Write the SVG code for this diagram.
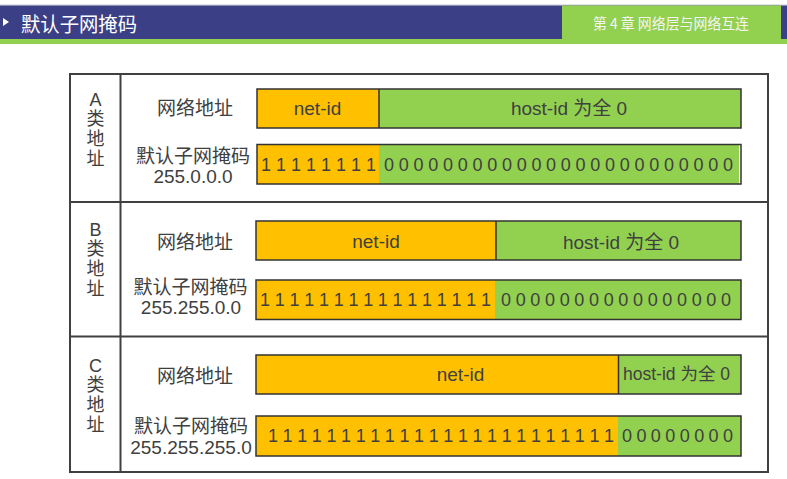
<svg xmlns="http://www.w3.org/2000/svg" width="787" height="479" viewBox="0 0 787 479">
<style>
  .t{font-family:"Liberation Sans","Noto Sans CJK SC",sans-serif;fill:#404040;}
  .lbl{font-size:19px;text-anchor:middle;}
  .cls{font-size:18px;text-anchor:middle;}
  .bits{font-size:18px;}
  .or{fill:#FFC000;}
  .gr{fill:#92D050;}
  .box{fill:none;stroke:#333;stroke-width:1.5;}
  .line{stroke:#404040;stroke-width:2;fill:none;}
</style>
<rect width="787" height="479" fill="#fff"/>
<g id="header">
  <line x1="0" y1="5" x2="787" y2="5" stroke="#c8c8d0" stroke-width="1"/>
  <rect x="0" y="5.5" width="787" height="34" fill="#3B3F86"/>
  <rect x="0" y="39" width="787" height="5" fill="#92D050"/>
  <rect x="562" y="5.5" width="219" height="38.5" fill="#92D050"/>
  <polygon points="3,18 9,22 3,26" fill="#ffffff"/>
  <text x="21" y="32" font-family="Noto Sans CJK SC, sans-serif" font-size="20" fill="#ffffff" textLength="116" lengthAdjust="spacingAndGlyphs">默认子网掩码</text>
  <text x="593" y="29" font-family="Noto Sans CJK SC, sans-serif" font-size="15" fill="#f4f4f4" textLength="156" lengthAdjust="spacingAndGlyphs">第 4 章  网络层与网络互连</text>
</g>
<g id="table">
  <rect x="70" y="74" width="698" height="398" class="line"/>
  <line x1="120.5" y1="74" x2="120.5" y2="472" class="line"/>
  <line x1="70" y1="202" x2="768" y2="202" class="line"/>
  <line x1="70" y1="336.5" x2="768" y2="336.5" class="line"/>
</g>
<g id="rowA">
  <text class="t cls" x="95.5" y="106">A</text>
  <text class="t cls" x="95.5" y="125">类</text>
  <text class="t cls" x="95.5" y="145">地</text>
  <text class="t cls" x="95.5" y="165">址</text>
  <text class="t lbl" x="195" y="115">网络地址</text>
  <text class="t lbl" x="193" y="163">默认子网掩码</text>
  <text class="t lbl" x="193" y="183">255.0.0.0</text>
  <rect x="257" y="89" width="122" height="39" class="or"/>
  <rect x="379" y="89" width="362" height="39" class="gr"/>
  <rect x="257" y="89" width="484" height="39" class="box"/>
  <line x1="379" y1="89" x2="379" y2="128" stroke="#333" stroke-width="1.5"/>
  <text class="t lbl" x="317.5" y="115">net-id</text>
  <text class="t lbl" x="569" y="115">host-id 为全 0</text>
  <rect x="257" y="144.5" width="122" height="39.5" class="or"/>
  <rect x="379" y="144.5" width="360" height="39.5" class="gr"/>
  <rect x="257" y="144.5" width="484" height="39.5" class="box"/>
  <text class="t bits" x="261" y="170.5" textLength="115" lengthAdjust="spacing">1 1 1 1 1 1 1 1</text>
  <text class="t bits" x="384" y="170.5" textLength="349" lengthAdjust="spacing">0 0 0 0 0 0 0 0 0 0 0 0 0 0 0 0 0 0 0 0 0 0 0 0</text>
</g>
<g id="rowB">
  <text class="t cls" x="95.5" y="236">B</text>
  <text class="t cls" x="95.5" y="255">类</text>
  <text class="t cls" x="95.5" y="275">地</text>
  <text class="t cls" x="95.5" y="295">址</text>
  <text class="t lbl" x="195" y="248.5">网络地址</text>
  <text class="t lbl" x="190.5" y="294">默认子网掩码</text>
  <text class="t lbl" x="191" y="314">255.255.0.0</text>
  <rect x="256" y="221" width="240" height="39" class="or"/>
  <rect x="496" y="221" width="245" height="39" class="gr"/>
  <rect x="256" y="221" width="485" height="39" class="box"/>
  <line x1="496" y1="221" x2="496" y2="260" stroke="#333" stroke-width="1.5"/>
  <text class="t lbl" x="376" y="248">net-id</text>
  <text class="t lbl" x="621" y="248.5">host-id 为全 0</text>
  <rect x="256" y="280" width="239" height="39.5" class="or"/>
  <rect x="495" y="280" width="246" height="39.5" class="gr"/>
  <rect x="256" y="280" width="485" height="39.5" class="box"/>
  <text class="t bits" x="260" y="306" textLength="231" lengthAdjust="spacing">1 1 1 1 1 1 1 1 1 1 1 1 1 1 1 1</text>
  <text class="t bits" x="501" y="306" textLength="230" lengthAdjust="spacing">0 0 0 0 0 0 0 0 0 0 0 0 0 0 0 0</text>
</g>
<g id="rowC">
  <text class="t cls" x="95.5" y="372">C</text>
  <text class="t cls" x="95.5" y="391">类</text>
  <text class="t cls" x="95.5" y="411">地</text>
  <text class="t cls" x="95.5" y="431">址</text>
  <text class="t lbl" x="195" y="382.5">网络地址</text>
  <text class="t lbl" x="191" y="433">默认子网掩码</text>
  <text class="t lbl" x="191" y="454">255.255.255.0</text>
  <rect x="256" y="355" width="362.5" height="39" class="or"/>
  <rect x="618.5" y="355" width="122.5" height="39" class="gr"/>
  <rect x="256" y="355" width="485" height="39" class="box"/>
  <line x1="618.5" y1="355" x2="618.5" y2="394" stroke="#333" stroke-width="1.5"/>
  <text class="t lbl" x="460.5" y="380.5">net-id</text>
  <text class="t" x="623" y="380" font-size="17.5" textLength="107" lengthAdjust="spacingAndGlyphs">host-id 为全 0</text>
  <rect x="256" y="416" width="362" height="40" class="or"/>
  <rect x="618" y="416" width="123" height="40" class="gr"/>
  <rect x="256" y="416" width="485" height="40" class="box"/>
  <text class="t bits" x="268" y="442" textLength="346" lengthAdjust="spacing">1 1 1 1 1 1 1 1 1 1 1 1 1 1 1 1 1 1 1 1 1 1 1 1</text>
  <text class="t bits" x="622" y="442" textLength="111" lengthAdjust="spacing">0 0 0 0 0 0 0 0</text>
</g>
</svg>
